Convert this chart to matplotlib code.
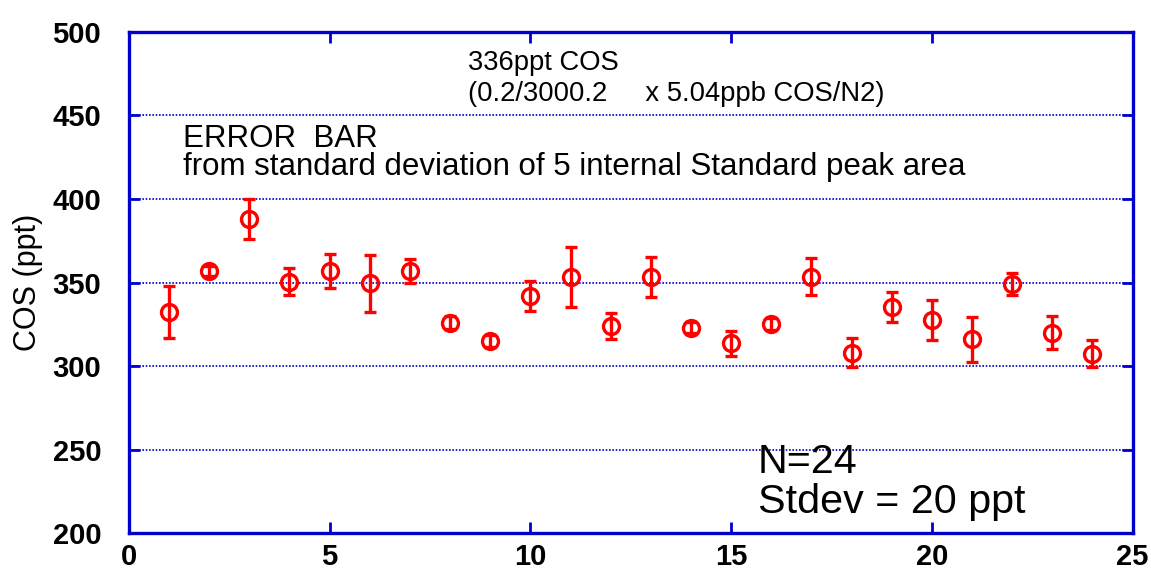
import matplotlib.pyplot as plt

plt.rcParams['font.family'] = ['Liberation Sans', 'DejaVu Sans']

# sample number, COS mixing ratio (ppt) and its error from the internal standard
sample = list(range(1, 25))
cos_ppt = [332.5, 357, 388, 350.5, 357, 349.5, 357, 326, 315,
           342, 353.5, 324, 353.5, 323, 313.5, 325, 353.5, 308,
           335.5, 327.5, 316, 349, 320, 307.5]
cos_err = [15.5, 3, 12, 8, 10, 17, 7, 4, 3.5,
           9, 18, 8, 12, 3.5, 7.5, 3.5, 11, 8.5,
           9, 12, 13.5, 6.5, 10, 8]

x_ticks = [0, 5, 10, 15, 20, 25]
y_ticks = [200, 250, 300, 350, 400, 450, 500]

blue = '#0000cc'

fig = plt.figure(figsize=(11.51, 5.69), dpi=100)
ax = fig.add_axes([0.112, 0.063, 0.872, 0.881])

ax.errorbar(sample, cos_ppt, yerr=cos_err, fmt='o', color='#ff0000',
            mfc='none', mec='#ff0000', ms=11.5, mew=2.4,
            elinewidth=2.4, capsize=4, capthick=2.4)

ax.set_xlim(0, 25)
ax.set_ylim(200, 500)
ax.set_xticks(x_ticks)
ax.set_yticks(y_ticks)

for side in ax.spines.values():
    side.set_color(blue)
    side.set_linewidth(2.4)

ax.yaxis.grid(True, color=blue, linestyle=(0, (1, 1)), linewidth=1.2)
ax.tick_params(direction='in', length=8, width=2, color=blue,
               top=True, right=True, labelsize=21)
ax.tick_params(axis='x', pad=7)
ax.tick_params(axis='y', pad=20)
for lab in ax.get_xticklabels() + ax.get_yticklabels():
    lab.set_fontweight('bold')

ax.set_ylabel('COS (ppt)', fontsize=22, labelpad=7)

# annotations, y is the baseline of the last line
ax.text(8.44, 458.6, '336ppt COS\n(0.2/3000.2     x 5.04ppb COS/N2)',
        fontsize=19.7, va='baseline', linespacing=1.27)
ax.text(1.35, 414.4, 'ERROR  BAR\nfrom standard deviation of 5 internal Standard peak area',
        fontsize=22.5, va='baseline', linespacing=0.92)
ax.text(15.66, 211.8, 'N=24\nStdev = 20 ppt',
        fontsize=29.7, va='baseline', linespacing=1.07)

fig.savefig('out.png', dpi=100)
